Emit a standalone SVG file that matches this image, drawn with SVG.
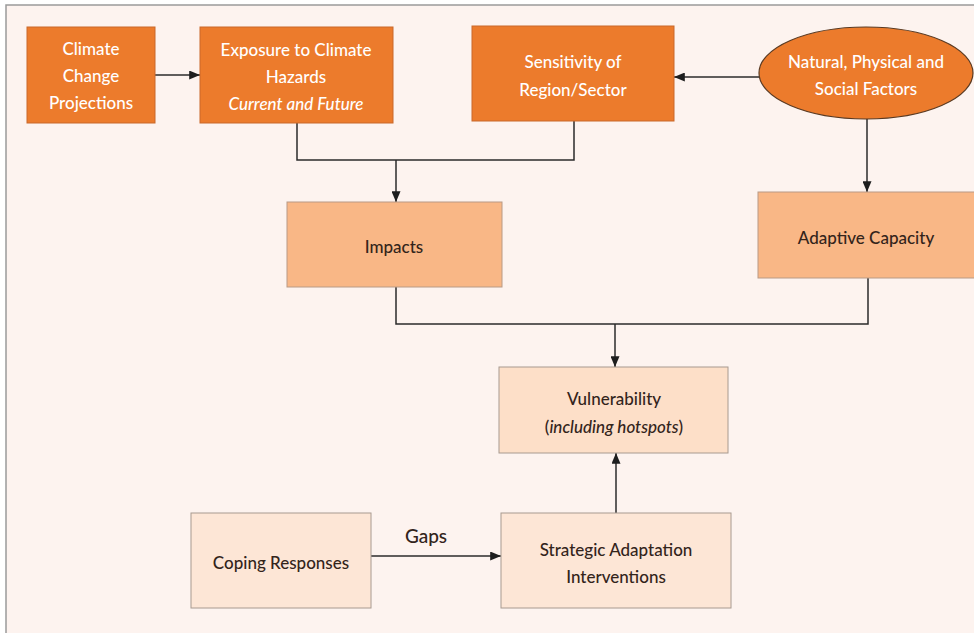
<svg xmlns="http://www.w3.org/2000/svg" width="974" height="633" viewBox="0 0 974 633">
<style>
text{font-family:Lato,"Open Sans","Liberation Sans",sans-serif;font-size:17px;text-anchor:middle;font-weight:500}
.w{fill:#ffffff}
.d{fill:#33241b}
.it{font-style:italic}
.dark{fill:#ec7b2c;stroke:#c9692a;stroke-width:1}
.mid{fill:#f9b786;stroke:#b99a85;stroke-width:1}
.light{fill:#fddfc8;stroke:#a89a90;stroke-width:1}
.pale{fill:#fde6d6;stroke:#a89a90;stroke-width:1}
.c{fill:none;stroke:#2b2b2b;stroke-width:1.5}
</style>
<defs>
<marker id="ah" viewBox="0 0 12 10" refX="12" refY="5" markerWidth="12" markerHeight="9" markerUnits="userSpaceOnUse" orient="auto">
<path d="M0,0 L12,5 L0,10 z" fill="#1e1e1e"/>
</marker>
</defs>
<rect x="0" y="0" width="974" height="633" fill="#ffffff"/>
<rect x="6" y="5" width="970" height="630" fill="#fdf3ef" stroke="#9a9a9a" stroke-width="1.5"/>

<g id="connectors">
<line class="c" x1="155" y1="75" x2="200" y2="75" marker-end="url(#ah)"/>
<line class="c" x1="759" y1="77" x2="674" y2="77" marker-end="url(#ah)"/>
<line class="c" x1="867" y1="119" x2="867" y2="192" marker-end="url(#ah)"/>
<polyline class="c" points="297,123 297,160 574,160 574,121"/>
<line class="c" x1="396" y1="160" x2="396" y2="202" marker-end="url(#ah)"/>
<polyline class="c" points="396,287 396,324 868,324 868,278"/>
<line class="c" x1="615" y1="324" x2="615" y2="367" marker-end="url(#ah)"/>
<line class="c" x1="616" y1="513" x2="616" y2="453" marker-end="url(#ah)"/>
<line class="c" x1="371" y1="556" x2="501" y2="556" marker-end="url(#ah)"/>
<text class="d" x="426" y="543" style="font-size:19px">Gaps</text>
</g>

<g id="climate-change-projections">
<rect class="dark" x="27" y="27" width="128" height="96"/>
<text class="w" x="91" y="55">Climate</text>
<text class="w" x="91" y="82">Change</text>
<text class="w" x="91" y="109">Projections</text>
</g>

<g id="exposure">
<rect class="dark" x="200" y="27" width="193" height="96"/>
<text class="w" x="296" y="56">Exposure to Climate</text>
<text class="w" x="296" y="83">Hazards</text>
<text class="w it" x="296" y="110">Current and Future</text>
</g>

<g id="sensitivity">
<rect class="dark" x="472" y="26" width="202" height="95"/>
<text class="w" x="573" y="68">Sensitivity of</text>
<text class="w" x="573" y="96">Region/Sector</text>
</g>

<g id="factors">
<ellipse cx="866" cy="73" rx="107" ry="46" fill="#ec7b2c" stroke="#5a3a22" stroke-width="1.2"/>
<text class="w" x="866" y="68">Natural, Physical and</text>
<text class="w" x="866" y="95">Social Factors</text>
</g>

<g id="impacts">
<rect class="mid" x="287" y="202" width="215" height="85"/>
<text class="d" x="394" y="253">Impacts</text>
</g>

<g id="adaptive-capacity">
<rect class="mid" x="758" y="192" width="220" height="86"/>
<text class="d" x="866" y="244">Adaptive Capacity</text>
</g>

<g id="vulnerability">
<rect class="light" x="499" y="367" width="229" height="86"/>
<text class="d" x="614" y="405">Vulnerability</text>
<text class="d" x="614" y="433">(<tspan class="it">including hotspots</tspan>)</text>
</g>

<g id="coping-responses">
<rect class="pale" x="191" y="513" width="180" height="95"/>
<text class="d" x="281" y="569">Coping Responses</text>
</g>

<g id="strategic-adaptation">
<rect class="pale" x="501" y="513" width="230" height="95"/>
<text class="d" x="616" y="556">Strategic Adaptation</text>
<text class="d" x="616" y="583">Interventions</text>
</g>
</svg>
